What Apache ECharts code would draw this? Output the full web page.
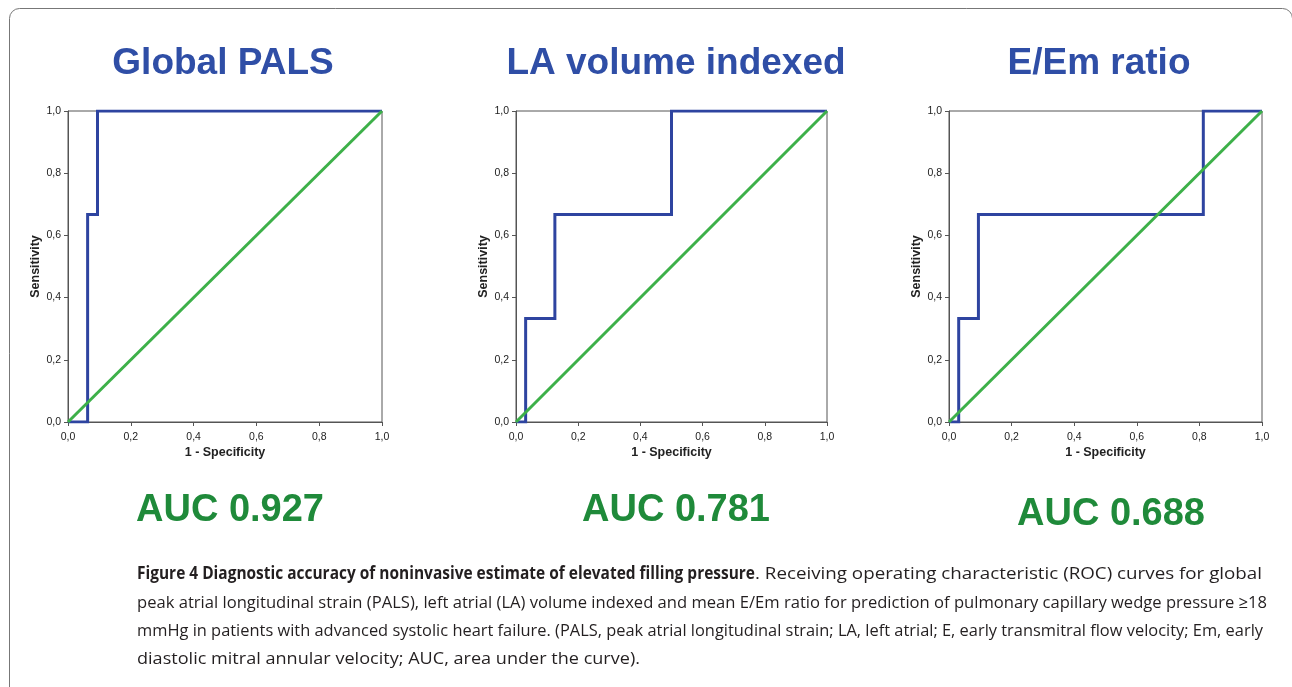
<!DOCTYPE html>
<html>
<head>
<meta charset="utf-8">
<script src="https://cdn.jsdelivr.net/npm/echarts@6/dist/echarts.min.js"></script>
<style>
html, body { margin: 0; padding: 0; background: #fff; }
#chart { width: 1292px; height: 687px; }
</style>
</head>
<body>
<div id="chart"></div>
<script>
// panel texts
const titles = ['Global PALS', 'LA volume indexed', 'E/Em ratio'];
const aucLabels = ['AUC 0.927', 'AUC 0.781', 'AUC 0.688'];
const axisTicks = [0, 0.2, 0.4, 0.6, 0.8, 1.0];

// ROC curve vertices (1 - specificity, sensitivity)
const palsFpr = [0, 0.0625, 0.0625, 0.094, 0.094, 1];
const palsTpr = [0, 0, 0.667, 0.667, 1, 1];
const laFpr = [0, 0.031, 0.031, 0.125, 0.125, 0.5, 0.5, 1];
const laTpr = [0, 0, 0.333, 0.333, 0.667, 0.667, 1, 1];
const eemFpr = [0, 0.031, 0.031, 0.094, 0.094, 0.8125, 0.8125, 1];
const eemTpr = [0, 0, 0.333, 0.333, 0.667, 0.667, 1, 1];
// reference diagonal
const refFpr = [0, 1];
const refTpr = [0, 1];

const captionBold = 'Figure 4 Diagnostic accuracy of noninvasive estimate of elevated filling pressure';
const captionLines = [
	'. Receiving operating characteristic (ROC) curves for global',
	'peak atrial longitudinal strain (PALS), left atrial (LA) volume indexed and mean E/Em ratio for prediction of pulmonary capillary wedge pressure \u226518',
	'mmHg in patients with advanced systolic heart failure. (PALS, peak atrial longitudinal strain; LA, left atrial; E, early transmitral flow velocity; Em, early',
	'diastolic mitral annular velocity; AUC, area under the curve).',
];

const rocX = [palsFpr, laFpr, eemFpr];
const rocY = [palsTpr, laTpr, eemTpr];

const pairs = (xs, ys) => xs.map((x, i) => [x, ys[i]]);
const fmt = (v) => v.toFixed(1).replace('.', ',');

// layout of the three panels
const panels = [
	{ left: 68, width: 314, titleX: 223, aucX: 230, aucY: 511 },
	{ left: 516, width: 311, titleX: 676, aucX: 676, aucY: 511 },
	{ left: 949, width: 313, titleX: 1099, aucX: 1111, aucY: 515 },
];
const gridTop = 111;
const gridHeight = 311;

const blue = '#2e44a0';
const green = '#3db049';
const axisColor = '#555';

const grid = [];
const xAxis = [];
const yAxis = [];
const series = [];
const graphic = [];

panels.forEach((p, i) => {
	grid.push({
		left: p.left,
		top: gridTop,
		width: p.width,
		height: gridHeight,
		show: true,
		borderColor: axisColor,
		borderWidth: 1,
	});
	const common = {
		gridIndex: i,
		type: 'value',
		min: 0,
		max: 1,
		interval: 0.2,
		nameLocation: 'middle',
		nameTextStyle: { fontFamily: 'Liberation Sans', fontWeight: 'bold', fontSize: 12.5, color: '#222' },
		axisLine: { show: true, lineStyle: { color: axisColor, width: 1 } },
		axisTick: { show: true, inside: false, length: 4, lineStyle: { color: axisColor } },
		splitLine: { show: false },
		axisLabel: {
			fontFamily: 'Liberation Sans',
			fontSize: 10.5,
			color: '#222',
			formatter: fmt,
		},
	};
	xAxis.push(Object.assign({}, common, {
		name: '1 - Specificity',
		nameGap: 24,
		axisLabel: Object.assign({}, common.axisLabel, { margin: 10 }),
	}));
	yAxis.push(Object.assign({}, common, {
		name: 'Sensitivity',
		nameGap: 25,
		nameRotate: 90,
		axisLabel: Object.assign({}, common.axisLabel, { margin: 7 }),
	}));
	series.push({
		type: 'line',
		xAxisIndex: i,
		yAxisIndex: i,
		data: pairs(rocX[i], rocY[i]),
		symbol: 'none',
		lineStyle: { color: blue, width: 3, join: 'miter' },
		animation: false,
		z: 2,
	});
	series.push({
		type: 'line',
		xAxisIndex: i,
		yAxisIndex: i,
		data: pairs(refFpr, refTpr),
		symbol: 'none',
		lineStyle: { color: green, width: 3 },
		animation: false,
		z: 3,
	});
	graphic.push({
		type: 'text',
		x: p.titleX,
		y: 64,
		style: {
			text: titles[i],
			font: 'bold 37px "Liberation Sans", Arial, sans-serif',
			fill: '#2f4ea6',
			align: 'center',
			verticalAlign: 'middle',
		},
	});
	graphic.push({
		type: 'text',
		x: p.aucX,
		y: p.aucY,
		style: {
			text: aucLabels[i],
			font: 'bold 38px "Liberation Sans", Arial, sans-serif',
			fill: '#1f8a3a',
			align: 'center',
			verticalAlign: 'middle',
		},
	});
});

// caption: each run is squeezed to the span it takes in the original
const capFont = '17px "Open Sans", sans-serif';
const capBoldFont = 'bold 17px "Open Sans", sans-serif';
const ctx = document.createElement('canvas').getContext('2d');
const lineY = [574, 603, 631, 659];
const runs = [
	{ text: captionBold, font: capBoldFont, x0: 137, x1: 755, y: lineY[0] },
	{ text: captionLines[0], font: capFont, x0: 755, x1: 1262, y: lineY[0] },
	{ text: captionLines[1], font: capFont, x0: 137, x1: 1267, y: lineY[1] },
	{ text: captionLines[2], font: capFont, x0: 137, x1: 1263, y: lineY[2] },
	{ text: captionLines[3], font: capFont, x0: 137, x1: 640, y: lineY[3] },
];

graphic.push({
	type: 'rect',
	shape: { x: 9.5, y: 8.5, width: 1283, height: 700, r: 10 },
	style: { fill: 'none', stroke: '#777', lineWidth: 1 },
	silent: true,
});
runs.forEach((r) => {
	ctx.font = r.font;
	const w = ctx.measureText(r.text).width;
	graphic.push({
		type: 'text',
		x: r.x0,
		y: r.y,
		scaleX: (r.x1 - r.x0) / w,
		style: { text: r.text, font: r.font, fill: '#231f20', verticalAlign: 'middle' },
	});
});

const myChart = echarts.init(document.getElementById('chart'));
myChart.setOption({
	animation: false,
	backgroundColor: '#fff',
	grid: grid,
	xAxis: xAxis,
	yAxis: yAxis,
	series: series,
	graphic: graphic,
});
</script>
</body>
</html>
